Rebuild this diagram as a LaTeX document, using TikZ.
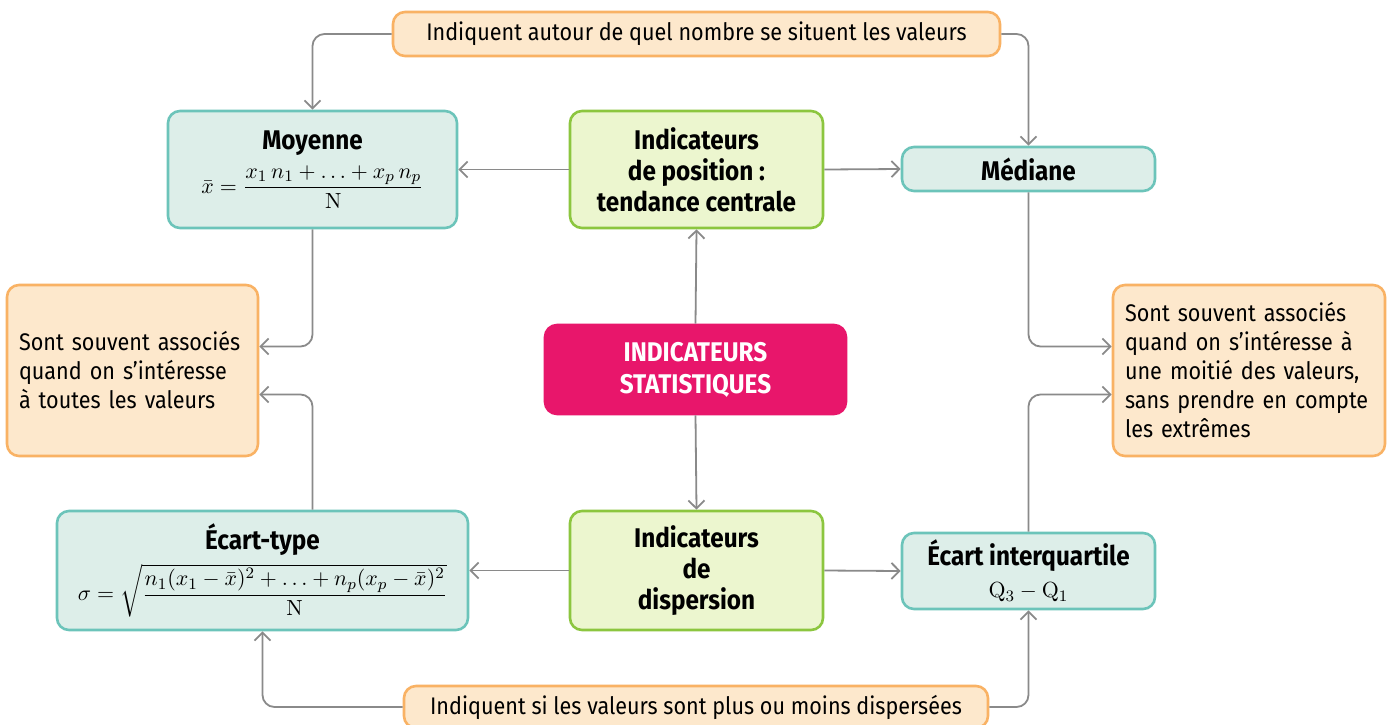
\documentclass[tikz,border=0pt]{standalone}
\usepackage{amsmath}
\usepackage[no-math]{fontspec}
\setmainfont{Fira Sans}[FakeStretch=0.9]
\usetikzlibrary{arrows.meta}
\definecolor{figT}{RGB}{108,196,186}
\definecolor{figTf}{RGB}{221,238,233}
\definecolor{figG}{RGB}{140,198,63}
\definecolor{figGf}{RGB}{236,246,207}
\definecolor{figO}{RGB}{249,178,100}
\definecolor{figOf}{RGB}{253,232,204}
\definecolor{figM}{RGB}{232,22,107}
\definecolor{figA}{RGB}{138,138,138}
\newcommand{\formule}[1]{{\fontsize{11}{12}\selectfont$#1$}}
\newcommand{\nohyph}{\hyphenpenalty=10000\relax}

\begin{document}
\begin{tikzpicture}[x=0.5pt,y=-0.5pt,
  box/.style={rounded corners=6pt,line width=1.3pt,align=center,inner sep=3pt,font=\fontsize{12}{15.5}\selectfont},
  tealbox/.style={box,draw=figT,fill=figTf,font=\fontsize{13.5}{16}\selectfont},
  greenbox/.style={box,draw=figG,fill=figGf,font=\fontsize{13.5}{15.5}\selectfont\bfseries},
  notebox/.style={box,draw=figO,fill=figOf},
  sidenote/.style={notebox,align=left,inner xsep=6pt,font=\fontsize{12}{14.5}\selectfont\nohyph},
  conn/.style={draw=figA,line width=0.9pt,rounded corners=6pt,-{Straight Barb[length=4pt,width=8pt]}}]
\useasboundingbox[fill=white] (0,0) rectangle (1392,724);
% boites
\node[notebox,minimum width=303.5pt,minimum height=22pt] (haut) at (696.5,34) {Indiquent autour de quel nombre se situent les valeurs};
\node[tealbox,minimum width=144.5pt,minimum height=58.5pt] (moy) at (312.5,169.5) {\textbf{Moyenne}\\[4pt] \formule{\bar{x}=\dfrac{x_1\,n_1+\ldots+x_p\,n_p}{\mathrm{N}}}};
\node[greenbox,minimum width=126.5pt,minimum height=58.5pt] (pos) at (696.5,169.5) {Indicateurs\\de position :\\tendance centrale};
\node[tealbox,minimum width=126.5pt,minimum height=22pt,font=\fontsize{13.5}{16}\selectfont\bfseries] (med) at (1028.5,169) {Médiane};
\node[sidenote,text width=113.5pt,minimum height=85.5pt] (gauche) at (132.5,370.5) {Sont souvent associés\\quand on s’intéresse\\à toutes les valeurs\\[10pt]};
\node[box,draw=figM,fill=figM,text=white,font=\fontsize{13.5}{16}\selectfont\bfseries,minimum width=150.5pt,minimum height=44.5pt] (stat) at (695.5,369.5) {INDICATEURS\\STATISTIQUES};
\node[sidenote,text width=124pt,minimum height=85.5pt] (droite) at (1249,370.5) {Sont souvent associés\\quand on s’intéresse à\\une moitié des valeurs,\\sans prendre en compte\\les extrêmes};
\node[tealbox,minimum width=205.5pt,minimum height=59.5pt] (et) at (262.5,570.5) {\textbf{Écart-type}\\[3pt] \formule{\sigma=\sqrt{\dfrac{n_1(x_1-\bar{x})^2+\ldots+n_p(x_p-\bar{x})^2}{\mathrm{N}}}}};
\node[greenbox,minimum width=126.5pt,minimum height=59.5pt] (disp) at (696.5,570.5) {Indicateurs\\de\\dispersion};
\node[tealbox,minimum width=126.5pt,minimum height=38pt] (iq) at (1028.5,571) {\textbf{Écart interquartile}\\ \formule{\mathrm{Q}_3-\mathrm{Q}_1}};
\node[notebox,minimum width=292pt,minimum height=21pt] (bas) at (696,707) {Indiquent si les valeurs sont plus ou moins dispersées};
% fleches
\draw[conn] (haut.west) -| (moy.north);
\draw[conn] (haut.east) -| (med.north);
\draw[conn] (pos.west) -- (moy.east);
\draw[conn] (pos.east) -- (med.west);
\draw[conn] (stat.north) -- (pos.south);
\draw[conn] (stat.south) -- (disp.north);
\draw[conn] (moy.south) |- ([yshift=12pt]gauche.east);
\draw[conn] (et.north -| moy.south) |- ([yshift=-12pt]gauche.east);
\draw[conn] (med.south) |- ([yshift=12pt]droite.west);
\draw[conn] (iq.north) |- ([yshift=-12pt]droite.west);
\draw[conn] (disp.west) -- (et.east);
\draw[conn] (disp.east) -- (iq.west);
\draw[conn] (bas.west) -| (et.south);
\draw[conn] (bas.east) -| (iq.south);
\end{tikzpicture}
\end{document}
